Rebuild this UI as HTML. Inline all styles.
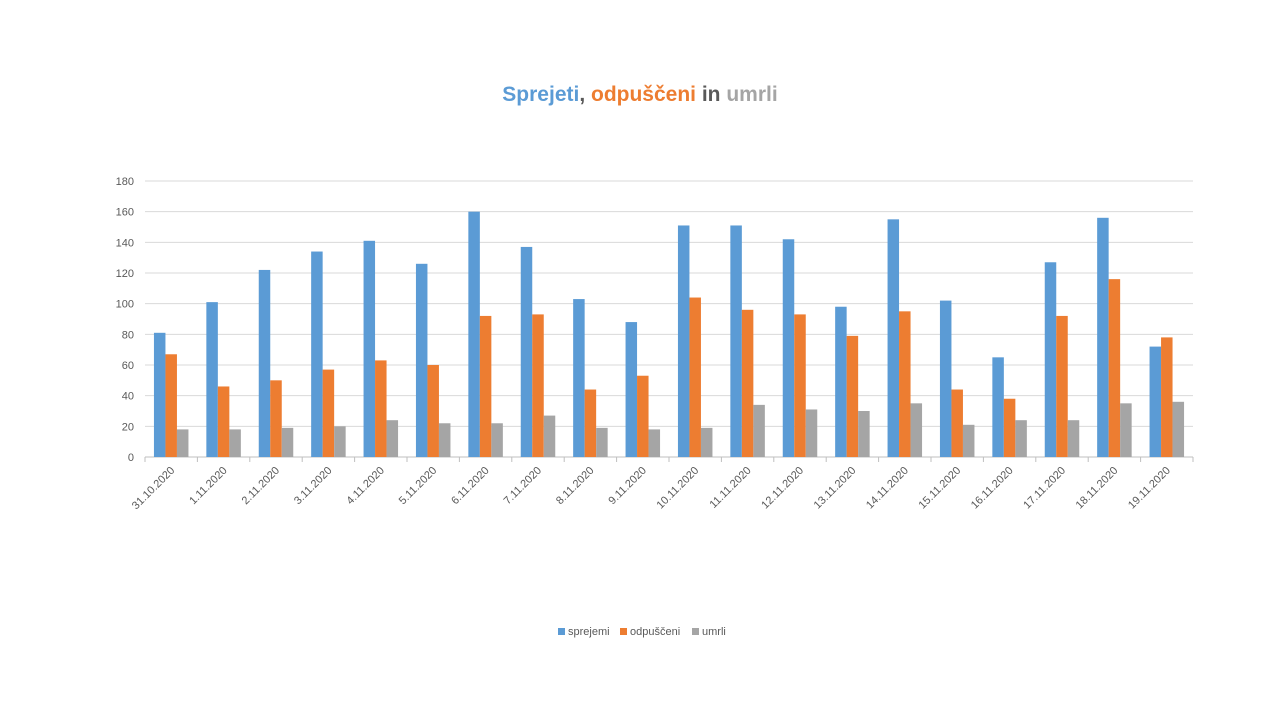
<!DOCTYPE html>
<html><head><meta charset="utf-8"><style>
html,body{margin:0;padding:0;background:#fff;width:1280px;height:720px;overflow:hidden}
svg{font-family:"Liberation Sans",sans-serif}
</style></head><body>
<svg id="chart" width="1280" height="720" xmlns="http://www.w3.org/2000/svg">
<text x="640" y="101" text-anchor="middle" font-size="21" font-weight="bold"><tspan fill="#5b9bd5">Sprejeti</tspan><tspan fill="#595959">, </tspan><tspan fill="#ed7d31">odpuščeni</tspan><tspan fill="#595959"> in </tspan><tspan fill="#a5a5a5">umrli</tspan></text>
<g id="grid"></g><g id="bars"></g><g id="xlabels"></g>
<g font-size="11" fill="#595959">
<rect x="558" y="628" width="7" height="7" fill="#5b9bd5"/><text x="568" y="635">sprejemi</text>
<rect x="620" y="628" width="7" height="7" fill="#ed7d31"/><text x="630" y="635">odpuščeni</text>
<rect x="692" y="628" width="7" height="7" fill="#a5a5a5"/><text x="702" y="635">umrli</text>
</g>
</svg>
<script>
const categories=["31.10.2020","1.11.2020","2.11.2020","3.11.2020","4.11.2020","5.11.2020","6.11.2020","7.11.2020","8.11.2020","9.11.2020","10.11.2020","11.11.2020","12.11.2020","13.11.2020","14.11.2020","15.11.2020","16.11.2020","17.11.2020","18.11.2020","19.11.2020"];
const sprejemi=[81,101,122,134,141,126,160,137,103,88,151,151,142,98,155,102,65,127,156,72];
const odpusceni=[67,46,50,57,63,60,92,93,44,53,104,96,93,79,95,44,38,92,116,78];
const umrli=[18,18,19,20,24,22,22,27,19,18,19,34,31,30,35,21,24,24,35,36];
const yTicks=[0,20,40,60,80,100,120,140,160,180];
const NS="http://www.w3.org/2000/svg";
const x0=145,x1=1193,yBase=457,yTop=181,yMax=180;
const bw=(x1-x0)/categories.length;
const y=v=>yBase-(v/yMax)*(yBase-yTop);
function mk(t,a,p){const e=document.createElementNS(NS,t);for(const k in a)e.setAttribute(k,a[k]);p.appendChild(e);return e;}
const grid=document.getElementById('grid'),bars=document.getElementById('bars'),xl=document.getElementById('xlabels');
yTicks.forEach(v=>{
  const l=mk('line',{x1:x0,x2:x1,y1:y(v),y2:y(v),stroke:v===0?'#bfbfbf':'#d9d9d9','stroke-width':1},grid);
  
  
  const t=mk('text',{x:134,y:y(v)+4,'text-anchor':'end','font-size':11,fill:'#595959'},grid);
  t.textContent=v;
  
  
});
for(let i=0;i<=categories.length;i++){
  const tk=mk('line',{x1:x0+i*bw,x2:x0+i*bw,y1:yBase,y2:yBase+5,stroke:'#bfbfbf'},grid);
  
  
}
const series=[[sprejemi,'#5b9bd5','sprejemi'],[odpusceni,'#ed7d31','odpusceni'],[umrli,'#a5a5a5','umrli']];
const barW=11.5;
categories.forEach((c,i)=>{
  const cx=x0+i*bw+bw/2;
  series.forEach(([arr,col,nm],j)=>{
    const v=arr[i];
    const r=mk('rect',{x:cx-1.5*barW+j*barW,y:y(v),width:barW,height:yBase-y(v),fill:col},bars);
    
    
  });
  const t=mk('text',{x:cx+4,y:yBase+14,'text-anchor':'end','font-size':11,fill:'#595959',transform:`rotate(-45 ${cx+4} ${yBase+14})`},xl);
  t.textContent=c;
  
  
});
</script>
</body></html>
